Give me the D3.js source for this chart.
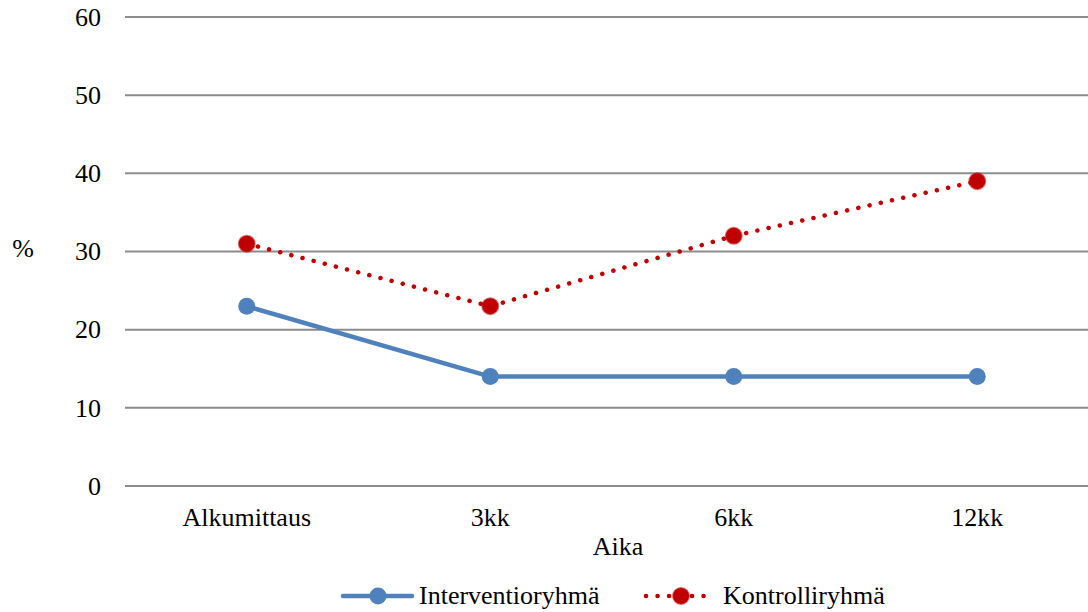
<!DOCTYPE html>
<html>
<head>
<meta charset="utf-8">
<script src="https://cdn.jsdelivr.net/npm/d3@7"></script>
<style>
  html, body { margin: 0; padding: 0; background: #fff; font-family: "Liberation Serif"; }
  svg { display: block; }
</style>
</head>
<body>
<svg id="chart" width="1088" height="612" font-family="Liberation Serif"></svg>
<script>
// Mittausajankohdat ja ryhmien osuudet (%)
const categories = ["Alkumittaus", "3kk", "6kk", "12kk"];
const interventio = [23, 14, 14, 14];
const kontrolli = [31, 23, 32, 39];
const yTicks = [0, 10, 20, 30, 40, 50, 60];
const seriesNames = ["Interventioryhmä", "Kontrolliryhmä"];

const FONT = "Liberation Serif";
const FS = 26;
const svg = d3.select("#chart");
const plot = { left: 125, right: 1099, top: 17, bottom: 486 };

const x = d3.scaleBand().domain(categories).range([plot.left, plot.right]).padding(0);
const y = d3.scaleLinear().domain([0, 60]).range([plot.bottom, plot.top]);
const cx = c => x(c) + x.bandwidth() / 2;

// Vaakasuorat apuviivat
svg.append("g").selectAll("line").data(yTicks).join("line")
  .attr("x1", plot.left).attr("x2", plot.right)
  .attr("y1", d => y(d)).attr("y2", d => y(d))
  .attr("stroke", "#8c8c8c").attr("stroke-width", 2);

// Y-akselin arvot
const yAxis = d3.axisLeft(y).tickValues(yTicks).tickSize(0).tickPadding(0);
const gy = svg.append("g").attr("transform", "translate(101,0)").call(yAxis)
  .attr("font-family", FONT).attr("font-size", FS);
gy.select(".domain").remove();
gy.selectAll("text").attr("font-family", FONT).attr("fill", "#000");

// X-akselin luokat
const xAxis = d3.axisBottom(x).tickSize(0).tickPadding(0);
const gx = svg.append("g").attr("transform", "translate(0,508)").call(xAxis)
  .attr("font-family", FONT).attr("font-size", FS);
gx.select(".domain").remove();
gx.selectAll("text").attr("font-family", FONT).attr("fill", "#000");

// Akselien otsikot
svg.append("text").attr("x", 618).attr("y", 555).attr("text-anchor", "middle")
  .attr("font-family", FONT).attr("font-size", FS).text("Aika");
svg.append("text").attr("x", 23).attr("y", 257).attr("text-anchor", "middle")
  .attr("font-family", FONT).attr("font-size", FS).text("%");

const line = d3.line().x((d, i) => cx(categories[i])).y(d => y(d));

// Interventioryhmä: yhtenäinen sininen viiva
svg.append("path").datum(interventio).attr("d", line)
  .attr("fill", "none").attr("stroke", "#4F81BD").attr("stroke-width", 4.5)
  .attr("stroke-linejoin", "round");
svg.append("g").selectAll("circle").data(interventio).join("circle")
  .attr("cx", (d, i) => cx(categories[i])).attr("cy", d => y(d)).attr("r", 8.5)
  .attr("fill", "#4F81BD");

// Kontrolliryhmä: pisteviiva
svg.append("path").datum(kontrolli).attr("d", line)
  .attr("fill", "none").attr("stroke", "#C00000").attr("stroke-width", 4.5)
  .attr("stroke-linecap", "round").attr("stroke-dasharray", "0.1 11.4");
svg.append("g").selectAll("circle").data(kontrolli).join("circle")
  .attr("cx", (d, i) => cx(categories[i])).attr("cy", d => y(d)).attr("r", 8)
  .attr("fill", "#C00000").attr("stroke", "rgba(192,0,0,0.55)").attr("stroke-width", 2);

// Selite
const legY = 596;
const leg = svg.append("g").attr("font-family", FONT).attr("font-size", FS);
leg.append("line").attr("x1", 343).attr("x2", 412).attr("y1", legY).attr("y2", legY)
  .attr("stroke", "#4F81BD").attr("stroke-width", 4.5).attr("stroke-linecap", "round");
leg.append("circle").attr("cx", 378).attr("cy", legY).attr("r", 8.5).attr("fill", "#4F81BD");
leg.append("text").attr("x", 419).attr("y", legY + 8).text(seriesNames[0]);

leg.append("line").attr("x1", 646).attr("x2", 712).attr("y1", legY).attr("y2", legY)
  .attr("stroke", "#C00000").attr("stroke-width", 4.5).attr("stroke-linecap", "round")
  .attr("stroke-dasharray", "0.1 11.4");
leg.append("circle").attr("cx", 681).attr("cy", legY).attr("r", 8)
  .attr("fill", "#C00000").attr("stroke", "rgba(192,0,0,0.55)").attr("stroke-width", 2);
leg.append("text").attr("x", 723).attr("y", legY + 8).text(seriesNames[1]);
</script>
</body>
</html>
